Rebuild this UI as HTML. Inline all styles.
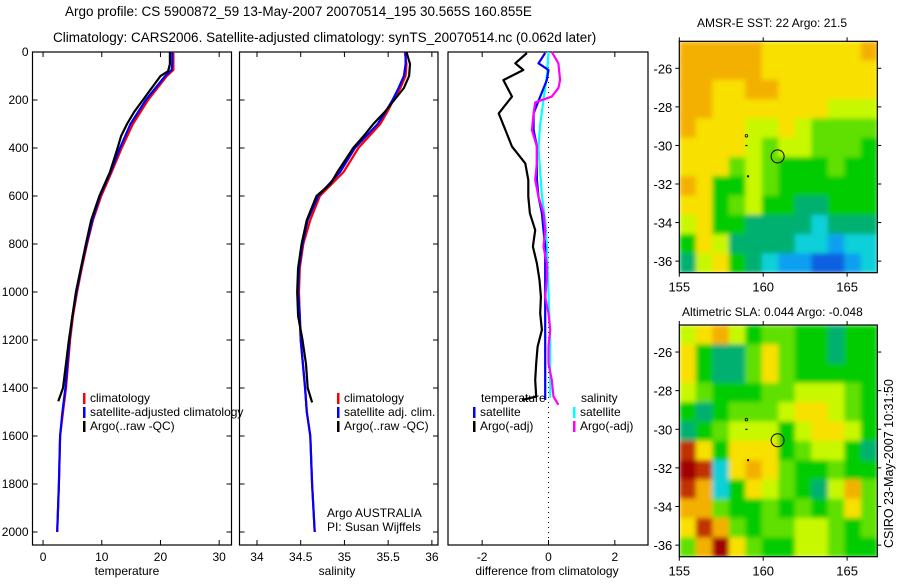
<!DOCTYPE html>
<html><head><meta charset="utf-8"><style>
body{margin:0;background:#fff;width:900px;height:580px;overflow:hidden}
svg{font-family:"Liberation Sans",sans-serif}
text{font-size:12px;fill:#000}
</style></head><body>
<svg id="s" width="900" height="580" viewBox="0 0 900 580">
<defs>
<filter id="blur" x="0" y="0" width="1" height="1"><feGaussianBlur stdDeviation="2.5" edgeMode="duplicate"/></filter>
<clipPath id="c1"><rect x="679.3" y="41.3" width="198" height="231.4"/></clipPath>
<clipPath id="c2"><rect x="679.3" y="325" width="198" height="231.7"/></clipPath>
</defs>
<text x="65" y="16" style="font-size:13.5px">Argo profile: CS 5900872_59 13-May-2007 20070514_195 30.565S 160.855E</text>
<text x="53" y="42" style="font-size:13.5px">Climatology: CARS2006. Satellite-adjusted climatology: synTS_20070514.nc (0.062d later)</text>
<text x="697" y="27" style="font-size:12px">AMSR-E SST: 22 Argo: 21.5</text>
<text x="682" y="316" style="font-size:12px">Altimetric SLA: 0.044 Argo: -0.048</text>
<text transform="translate(893,548) rotate(-90)" style="font-size:12.5px">CSIRO 23-May-2007 10:31:50</text>
<g id="g"></g>
</svg>
<script>
// ---- data ----
const tDepth=[0,50,75,100,200,300,400,500,600,700,800,900,1000,1100,1200,1400,1500,1600,1800,2000];
const tClim=[22.2,22.2,22.2,21.1,17.9,15.3,13.4,11.7,9.9,8.5,7.5,6.6,5.8,5.1,4.6,3.9,3.4,2.9,2.7,2.4];
const tSat=[22.0,22.0,21.9,20.8,17.5,14.9,13.1,11.5,9.7,8.4,7.4,6.5,5.7,5.0,4.5,3.8,3.3,2.9,2.7,2.4];
const argoDepth=[0,50,80,100,150,200,250,300,350,400,500,600,700,800,1000,1200,1400,1455];
const tArgo=[21.6,21.6,21.3,20.0,18.5,17.0,15.5,14.3,13.3,12.7,11.4,9.6,8.2,7.3,5.6,4.4,3.4,2.6];
const sDepth=[0,50,100,150,200,250,300,400,500,600,700,800,900,1000,1100,1200,1400,1500,1600,1800,2000];
const sClim=[35.69,35.71,35.70,35.64,35.56,35.49,35.41,35.16,34.99,34.72,34.61,34.53,34.49,34.48,34.49,34.50,34.55,34.57,34.61,34.63,34.66];
const sSat=[35.70,35.70,35.68,35.62,35.55,35.47,35.38,35.12,34.95,34.70,34.58,34.52,34.48,34.47,34.49,34.50,34.55,34.57,34.61,34.63,34.66];
const sArgoDepth=[0,50,100,150,200,250,300,350,400,500,550,600,700,800,900,1000,1100,1200,1300,1400,1460];
const sArgo=[35.71,35.75,35.74,35.68,35.57,35.46,35.33,35.22,35.10,34.92,34.84,34.68,34.57,34.51,34.47,34.46,34.47,34.52,34.56,34.58,34.63];
const dDepth=[4,47,75,117,186,256,325,394,464,533,603,672,742,811,881,950,1020,1089,1158,1228,1297,1367,1436,1450];
const dTArgo=[-0.65,-1.0,-0.76,-1.36,-1.1,-1.5,-1.3,-1.1,-0.7,-0.61,-0.61,-0.56,-0.4,-0.47,-0.35,-0.27,-0.23,-0.25,-0.2,-0.33,-0.37,-0.4,-0.37,-0.8];
const dTSat=[-0.1,-0.3,0.0,-0.05,-0.25,-0.45,-0.45,-0.35,-0.35,-0.35,-0.3,-0.2,-0.15,-0.1,-0.1,-0.1,-0.1,-0.1,-0.1,-0.1,-0.1,-0.1,-0.1,-0.1];
const dSDepth=[0,47,117,150,186,210,256,325,394,464,533,603,672,742,811,881,950,1020,1089,1158,1228,1297,1367,1436,1470];
const dSArgo=[0.1,0.3,0.35,0.3,0.1,-0.4,-0.45,-0.5,-0.35,-0.35,-0.4,-0.3,-0.15,-0.1,-0.15,-0.05,-0.05,-0.1,0.0,0.05,0.0,0.0,0.1,0.15,0.3];
const dSSatDepth=[0,100,200,300,400,500,600,700,800,1000,1200,1440];
const dSSat=[0.0,-0.05,-0.15,-0.25,-0.3,-0.25,-0.2,-0.1,-0.05,0.0,0.05,0.05];
const depthTicks=[0,200,400,600,800,1000,1200,1400,1600,1800,2000];
const tTicks=[0,10,20,30];
const sTicks=[34,34.5,35,35.5,36];
const sTickLabels=["34","34.5","35","35.5","36"];
const dTicks=[-2,0,2];
const lonTicks=[155,160,165];
const latTicks=[-26,-28,-30,-32,-34,-36];
const sstGrid=[
[8,8,8,8,8,7,7,7,7,7,7,8],
[8,8,8,8,8,7,7,7,7,7,7,7],
[8,8,7,7,8,8,7,7,7,7,7,7],
[8,8,7,7,7,7,7,7,7,6,6,6],
[8,7,7,7,6,6,7,6,5,5,5,5],
[7,7,7,7,6,5,6,6,5,5,5,4],
[7,7,7,5,6,5,4,4,4,5,4,4],
[8,7,4,4,6,5,4,4,4,4,4,4],
[7,7,4,5,6,4,4,3,3,4,4,4],
[6,7,4,4,3,3,3,3,2,3,3,3],
[4,7,6,3,3,3,3,2,2,1,2,2],
[3,6,7,4,3,2,1,1,0,0,1,2]];
const slaGrid=[
[6,7,8,6,4,5,5,4,4,3,4,4],
[7,4,3,3,5,7,5,4,4,3,4,4],
[7,4,3,3,5,7,5,4,4,4,4,4],
[6,5,4,4,4,5,5,6,6,6,5,4],
[4,3,4,5,5,5,6,7,7,6,5,4],
[3,4,5,6,6,6,4,6,7,7,6,4],
[9,7,4,7,7,7,4,5,6,6,4,3],
[10,9,2,7,8,7,5,4,4,5,4,4],
[9,8,2,4,7,6,5,4,3,6,8,5],
[8,8,5,4,4,5,4,5,4,5,7,5],
[7,9,8,5,4,5,5,6,6,5,4,5],
[5,8,10,7,5,4,4,6,6,5,4,4]];
const palette=["#1060e0","#10a0f0","#10d0d8","#00b070","#00cc00","#60e000","#c8f800","#f8e000","#f4b000","#c03000","#a00000"];
const argoLon=160.86, argoLat=-30.57;

// ---- helpers ----
const NS="http://www.w3.org/2000/svg";
const G=document.getElementById('g');
function mk(t,a,p){const e=document.createElementNS(NS,t);for(const k in a)e.setAttribute(k,a[k]);(p||G).appendChild(e);return e;}
const Y0=52,Y1=545;
const yD=d=>Y0+d*0.24;
function panel(x0,x1,v0,v1,name){
  const xs=v=>x0+(v-v0)/(v1-v0)*(x1-x0);
  const f=mk('rect',{x:x0,y:Y0,width:x1-x0,height:Y1-Y0,fill:'none',stroke:'#000','stroke-width':1.2});
  
  
  return xs;
}
function line(xs,ds,vs,color,name,w){
  const pts=ds.map((d,i)=>xs(vs[i]).toFixed(1)+','+yD(d).toFixed(1)).join(' ');
  const p=mk('polyline',{points:pts,fill:'none',stroke:color,'stroke-width':w||2.2,'stroke-linejoin':'round'});
  
  
}
function xTicks(xs,vals,labels,name){
  vals.forEach((v,i)=>{
    const x=xs(v);
    mk('line',{x1:x,y1:Y1,x2:x,y2:Y1-5,stroke:'#000'});
    mk('line',{x1:x,y1:Y0,x2:x,y2:Y0+5,stroke:'#000'});
    const t=mk('text',{x:x,y:Y1+16,'text-anchor':'middle'});t.textContent=labels[i];
    
    
  });
}
function yTicks(x0,x1,labels){
  depthTicks.forEach(d=>{
    const y=yD(d);
    mk('line',{x1:x0,y1:y,x2:x0+5,y2:y,stroke:'#000'});
    mk('line',{x1:x1,y1:y,x2:x1-5,y2:y,stroke:'#000'});
    if(labels){const t=mk('text',{x:x0-4,y:y+4,'text-anchor':'end'});t.textContent=d;
      
      }
  });
}
function label(x,y,s,name,anchor){const t=mk('text',{x:x,y:y,'text-anchor':anchor||'start'});t.textContent=s;
  
  return t;}
function legend(x,y,color,s,name){
  mk('rect',{x:x,y:y-9,width:2.5,height:11,fill:color});
  label(x+7,y,s,name);
}

// panel 1 temperature
const xT=panel(32.5,231.5,-1.8,32.1,'temperature-panel');
yTicks(32.5,231.5,true);xTicks(xT,tTicks,tTicks.map(String),'temperature');
line(xT,tDepth,tClim,'#ff0000','temperature-climatology-line');
line(xT,tDepth,tSat,'#0000ff','temperature-satellite-line');
line(xT,argoDepth,tArgo,'#000000','temperature-argo-line');
label(127,575,'temperature','temperature-axis-title','middle');
legend(83,402,'#ff0000','climatology','legend-climatology');
legend(83,416,'#0000ff','satellite-adjusted climatology','legend-satellite-adjusted');
legend(83,430,'#000','Argo(..raw -QC)','legend-argo');

// panel 2 salinity
const xS=panel(239.5,438,33.8,36.07,'salinity-panel');
yTicks(239.5,438,false);xTicks(xS,sTicks,sTickLabels,'salinity');
line(xS,sDepth,sClim,'#ff0000','salinity-climatology-line');
line(xS,sDepth,sSat,'#0000ff','salinity-satellite-line');
line(xS,sArgoDepth,sArgo,'#000000','salinity-argo-line');
label(337,575,'salinity','salinity-axis-title','middle');
legend(337,402,'#ff0000','climatology','legend-s-climatology');
legend(337,416,'#0000ff','satellite adj. clim.','legend-s-satellite');
legend(337,430,'#000','Argo(..raw -QC)','legend-s-argo');
label(327,517,'Argo AUSTRALIA','argo-australia-label');
label(327,531,'PI: Susan Wijffels','pi-label');

// panel 3 differences
const xDf=panel(448,648,-3.03,3.0,'difference-panel');
xTicks(xDf,dTicks,dTicks.map(String),'difference');
mk('line',{x1:xDf(0),y1:Y0,x2:xDf(0),y2:Y1,stroke:'#000','stroke-dasharray':'1,4'});
line(xDf,dSSatDepth,dSSat,'#00ffff','diff-salinity-satellite-line');
line(xDf,dDepth,dTSat,'#0000ff','diff-temperature-satellite-line');
line(xDf,dSDepth,dSArgo,'#ff00ff','diff-salinity-argo-line');
line(xDf,dDepth,dTArgo,'#000000','diff-temperature-argo-line');
label(547,575,'difference from climatology','difference-axis-title','middle');
label(481,402,'temperature','legend-temperature-heading');
label(581,402,'salinity','legend-salinity-heading');
legend(473,416,'#0000ff','satellite','legend-d-temp-satellite');
legend(473,430,'#000','Argo(-adj)','legend-d-temp-argo');
legend(573,416,'#00ffff','satellite','legend-d-sal-satellite');
legend(573,430,'#ff00ff','Argo(-adj)','legend-d-sal-argo');

// maps
function map(grid,x0,y0,x1,y1,name,clip){
  const lon=v=>x0+(v-155)/(166.8-155)*(x1-x0);
  const lat=v=>y0+(-24.6-v)/(36.6-24.6)*(y1-y0);
  const rows=grid.length,cols=grid[0].length;
  const cw=(x1-x0)/cols,ch=(y1-y0)/rows;
  const cg=mk('g',{'clip-path':'url(#'+clip+')'});
  const bg=mk('g',{filter:'url(#blur)'},cg);
  grid.forEach((r,i)=>r.forEach((v,j)=>{
    const c=mk('rect',{x:x0+j*cw,y:y0+i*ch,width:cw+0.6,height:ch+0.6,fill:palette[v]},bg);
    
    
  }));
  const f=mk('rect',{x:x0,y:y0,width:x1-x0,height:y1-y0,fill:'none',stroke:'#000','stroke-width':1.2});
  
  
  lonTicks.forEach(v=>{const x=lon(v);
    mk('line',{x1:x,y1:y1,x2:x,y2:y1+4,stroke:'#000'});mk('line',{x1:x,y1:y0,x2:x,y2:y0-4,stroke:'#000'});
    label(x,y1+19,String(v),name+'-lon-label','middle').style.fontSize='13px';});
  latTicks.forEach(v=>{const y=lat(v);
    mk('line',{x1:x0,y1:y,x2:x0-4,y2:y,stroke:'#000'});mk('line',{x1:x1,y1:y,x2:x1+4,y2:y,stroke:'#000'});
    label(x0-7,y+5,String(v),name+'-lat-label','end').style.fontSize='13px';});
  const c=mk('circle',{cx:lon(argoLon),cy:lat(argoLat),r:6.5,fill:'none',stroke:'#000','stroke-width':1});
  
  
  mk('circle',{cx:lon(159),cy:lat(-29.5),r:1.3,fill:'none',stroke:'#000','stroke-width':0.8});
  mk('rect',{x:lon(159)-1,y:lat(-30)-0.5,width:2,height:1.2,fill:'#000'});
  mk('rect',{x:lon(159.1)-1,y:lat(-31.6)-1,width:2,height:2,fill:'#000'});
}
map(sstGrid,679.3,41.3,877.3,272.7,'sst-map','c1');
map(slaGrid,679.3,325,877.3,556.7,'sla-map','c2');
</script>
</body></html>
